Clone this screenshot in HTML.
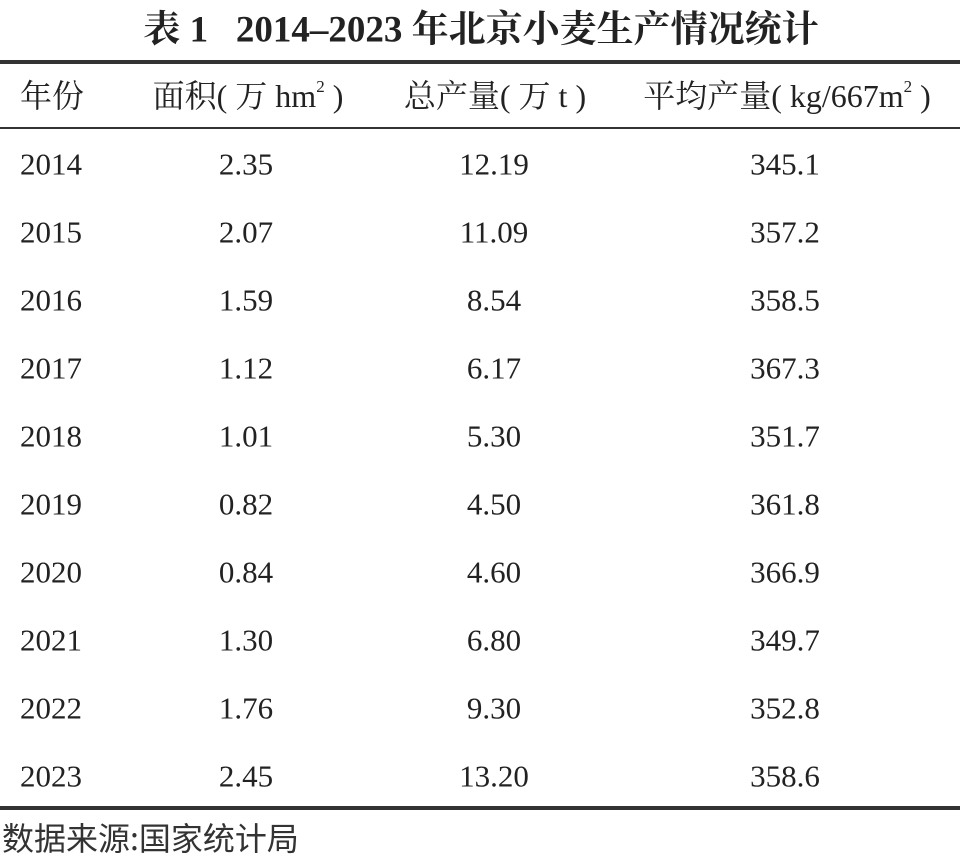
<!DOCTYPE html>
<html><head><meta charset="utf-8"><style>
body{margin:0;width:960px;height:861px;background:#fff;position:relative;overflow:hidden;color:#222;
font-family:"Liberation Serif","Noto Serif CJK SC",serif;}
.t{position:absolute;white-space:nowrap;line-height:1;}
.c{transform:translate(-50%,-50%);}
.l{transform:translateY(-50%);}
.r{position:absolute;left:0;width:960px;background:#333;}
.n{font-size:31px;}
.h{font-size:32px;}
sup{font-size:17px;vertical-align:15px;line-height:0}
</style></head><body>
<div class="t c" style="left:481px;top:30px;font-size:37px;font-weight:bold;">表 1&nbsp;&nbsp;&nbsp;2014–2023 年北京小麦生产情况统计</div>
<div class="r" style="top:60px;height:4px"></div>
<div class="r" style="top:127px;height:2px"></div>
<div class="r" style="top:806px;height:4px"></div>
<div class="t l h" style="left:20px;top:96px">年份</div>
<div class="t c h" style="left:248px;top:96px">面积( 万 hm<sup>2</sup> )</div>
<div class="t c h" style="left:495px;top:96px">总产量( 万 t )</div>
<div class="t c h" style="left:787px;top:96px">平均产量( kg/667m<sup>2</sup> )</div>
<div id="rows"></div>
<div class="t l" style="left:2px;top:837px;font-size:32px;font-family:'Noto Sans CJK SC',sans-serif;color:#333">数据来源:国家统计局</div>
<script>
var d=[["2014","2.35","12.19","345.1"],["2015","2.07","11.09","357.2"],["2016","1.59","8.54","358.5"],["2017","1.12","6.17","367.3"],["2018","1.01","5.30","351.7"],["2019","0.82","4.50","361.8"],["2020","0.84","4.60","366.9"],["2021","1.30","6.80","349.7"],["2022","1.76","9.30","352.8"],["2023","2.45","13.20","358.6"]];
var h="";d.forEach(function(r,i){var y=164+i*68;
h+='<div class="t l n" style="left:20px;top:'+y+'px">'+r[0]+'</div>';
h+='<div class="t c n" style="left:246px;top:'+y+'px">'+r[1]+'</div>';
h+='<div class="t c n" style="left:494px;top:'+y+'px">'+r[2]+'</div>';
h+='<div class="t c n" style="left:785px;top:'+y+'px">'+r[3]+'</div>';});
document.getElementById("rows").innerHTML=h;
</script>
</body></html>
